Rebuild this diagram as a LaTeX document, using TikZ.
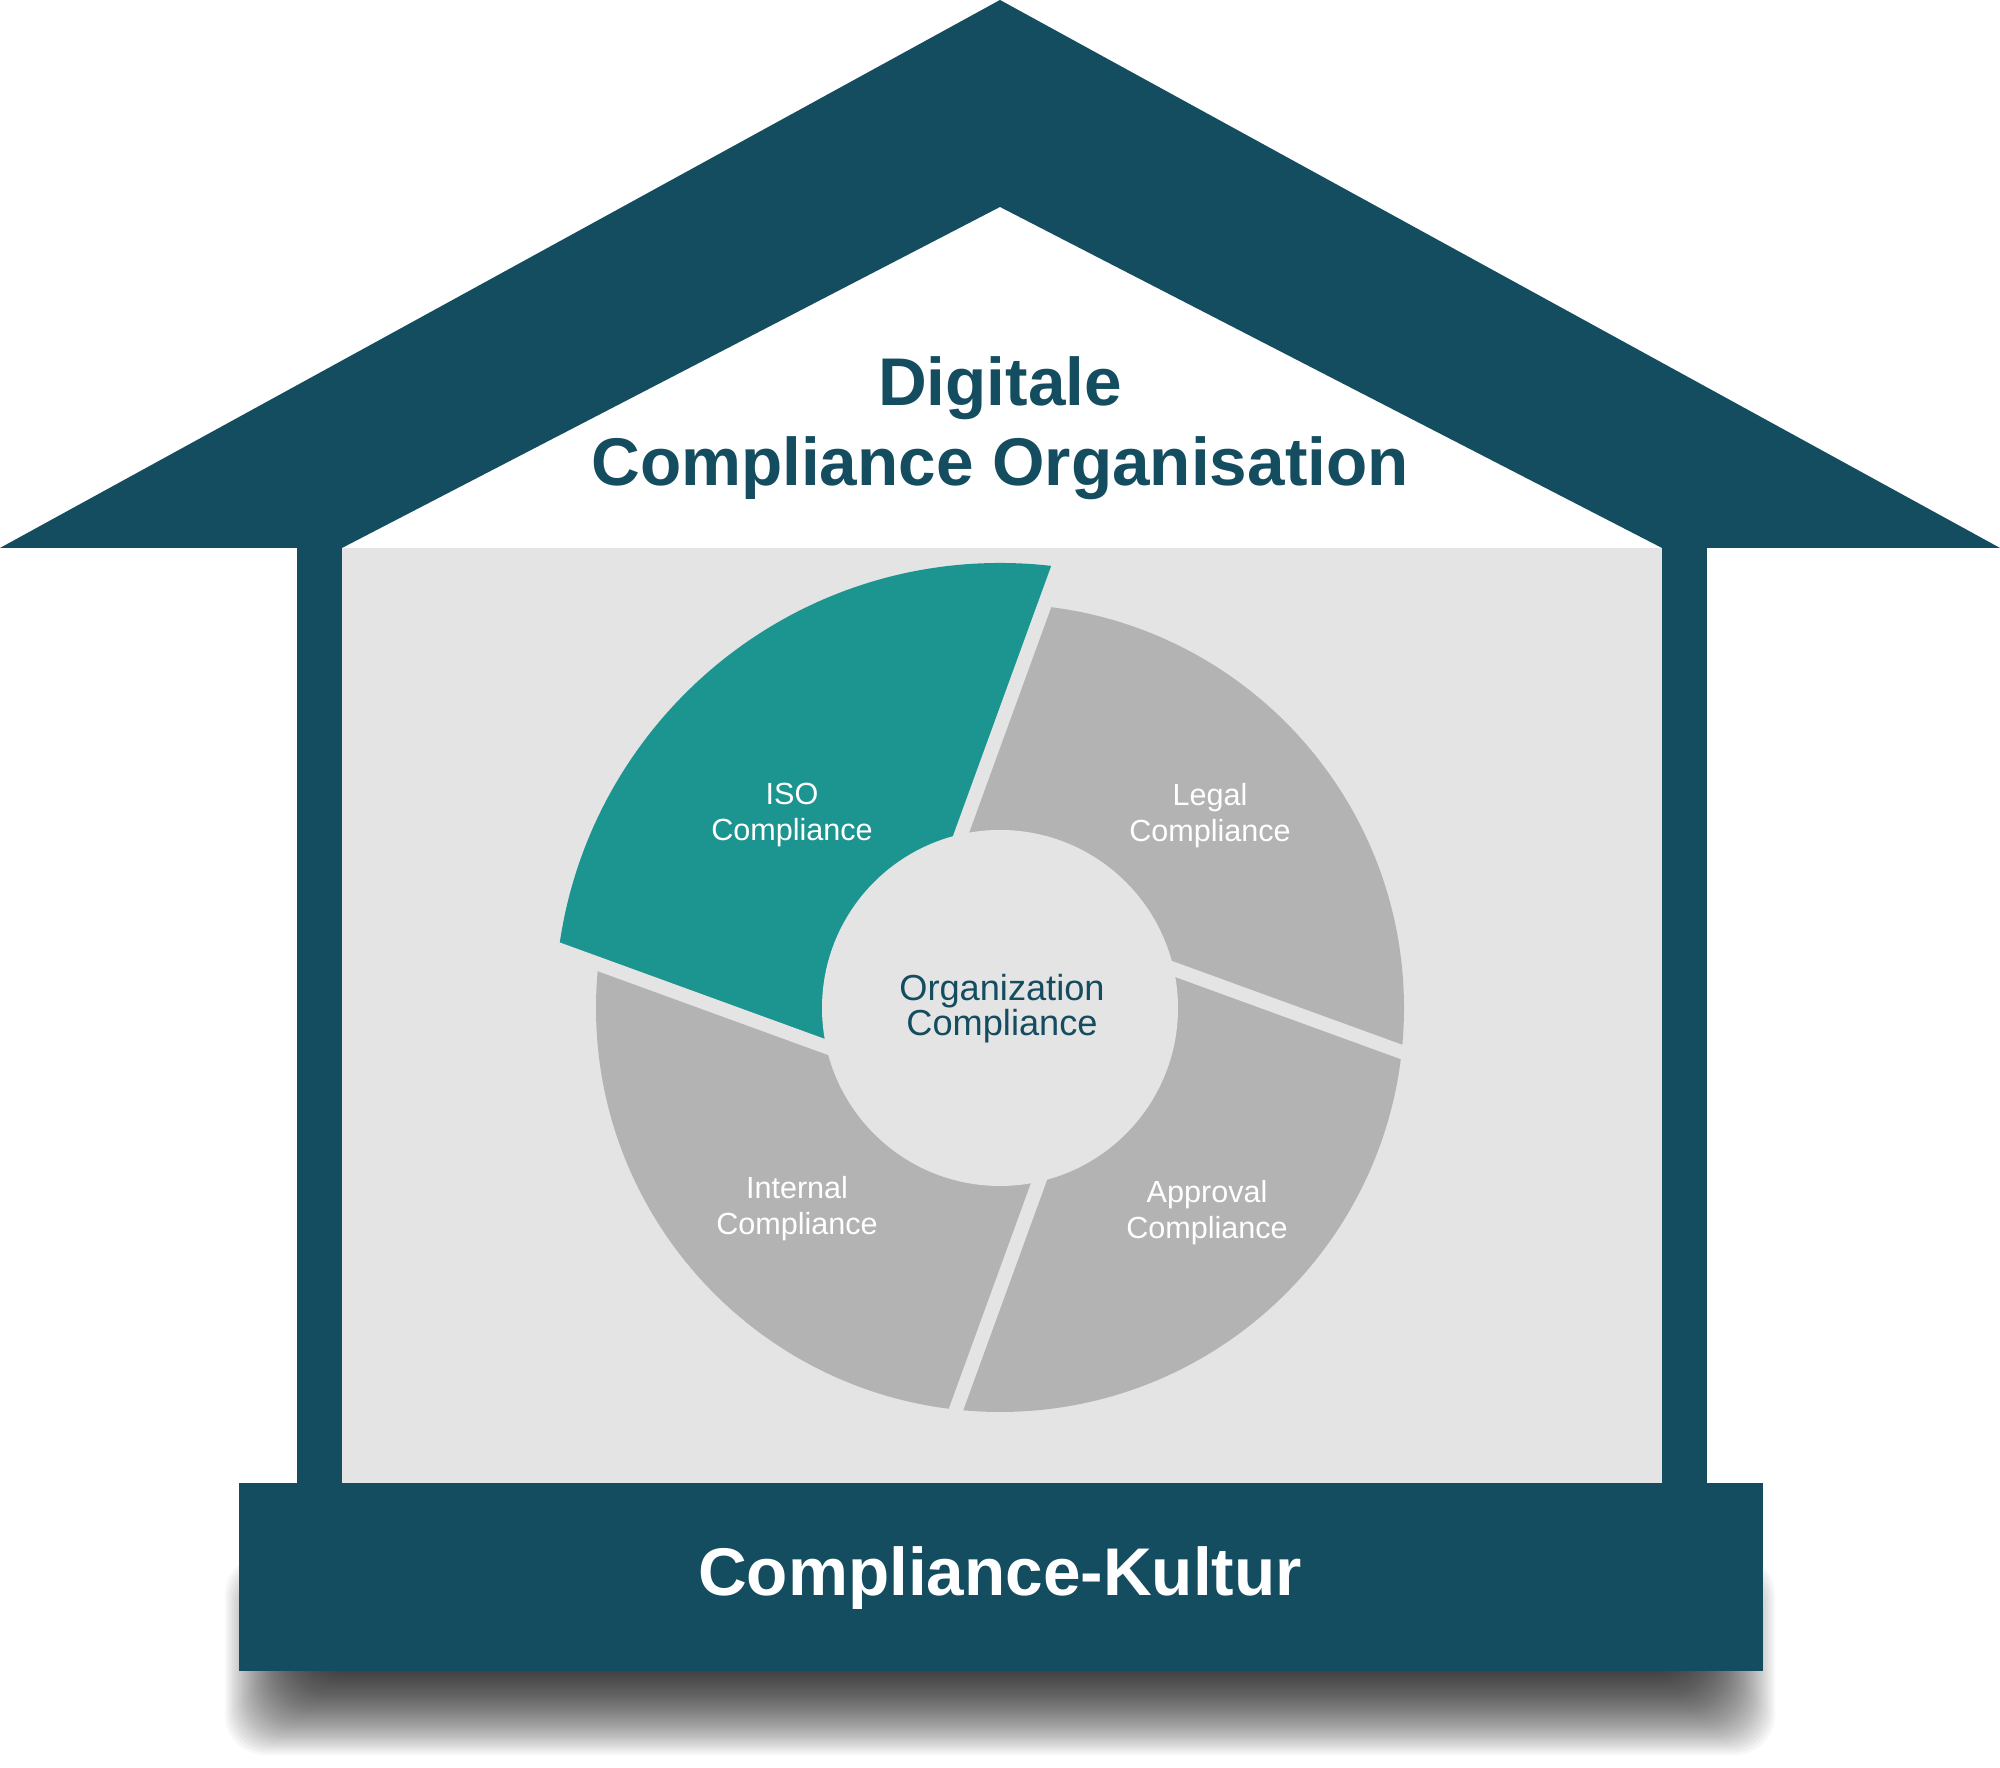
\documentclass[tikz,border=0pt]{standalone}
\usepackage{fontspec}
\setmainfont{Liberation Sans}
\definecolor{housedark}{RGB}{19,77,95}
\definecolor{isoteal}{RGB}{28,149,145}
\definecolor{ringgray}{RGB}{179,179,179}
\definecolor{panelgray}{RGB}{228,228,228}
\begin{document}
\begin{tikzpicture}[
  seg label/.style={align=center,text=white,font=\fontsize{8.7}{10.2}\selectfont},
  core label/.style={align=center,text=housedark,font=\fontsize{10.3}{9.9}\selectfont},
  big label/.style={font=\bfseries\fontsize{19.2}{22.8}\selectfont},
  gap/.style={panelgray,line width=0.14cm}]
  \useasboundingbox (0,0) rectangle (20,17.68);
  \fill[white] (0,0) rectangle (20,17.68);

  \foreach \k in {0,...,39}
    \fill[black,opacity=0.033,rounded corners=0.4cm]
      ({2.7-0.45+\k*0.0225},{0.58-0.45+\k*0.0225}) rectangle ({17.3+0.45-\k*0.0225},{1.68+0.45-\k*0.0225});

  \fill[housedark] (0,12.20) -- (10,17.68) -- (20,12.20) -- (16.62,12.20)
    -- (10,15.61) -- (3.42,12.20) -- cycle;
  \fill[housedark] (2.97,2.85) rectangle (3.42,12.20);
  \fill[housedark] (16.62,2.85) rectangle (17.07,12.20);
  \fill[panelgray] (3.42,2.85) rectangle (16.62,12.20);
  \fill[housedark] (2.39,0.97) rectangle (17.63,2.85);

  \begin{scope}[shift={(10,7.60)}]
    \fill[ringgray] (0,0) circle (4.04);
    \begin{scope}
      \clip (205:1.358) -- +(70:8) -- +(115:11) -- +(160:8) -- cycle;
      \fill[isoteal] (0,0) circle (4.45);
    \end{scope}
    \foreach \a/\len in {70/4.4,160/4.4,250/4.0,340/4.0}
      \draw[gap] ({\a+90}:0.96) -- ++(\a:\len);
    \fill[panelgray] (0,0) circle (1.78);
  \end{scope}

  \node[big label,align=center,text=housedark] (title) at (10,13.40) {Digitale\\Compliance Organisation};
  \node[big label,text=white] (kultur) at (10,1.90) {Compliance-Kultur};

  \node[core label] (orgc) at (10.02,7.59) {Organization\\Compliance};
  \node[seg label] (iso) at (7.92,9.53) {ISO\\Compliance};
  \node[seg label] (legal) at (12.10,9.52) {Legal\\Compliance};
  \node[seg label] (internal) at (7.97,5.59) {Internal\\Compliance};
  \node[seg label] (approval) at (12.07,5.55) {Approval\\Compliance};
\end{tikzpicture}
\end{document}
